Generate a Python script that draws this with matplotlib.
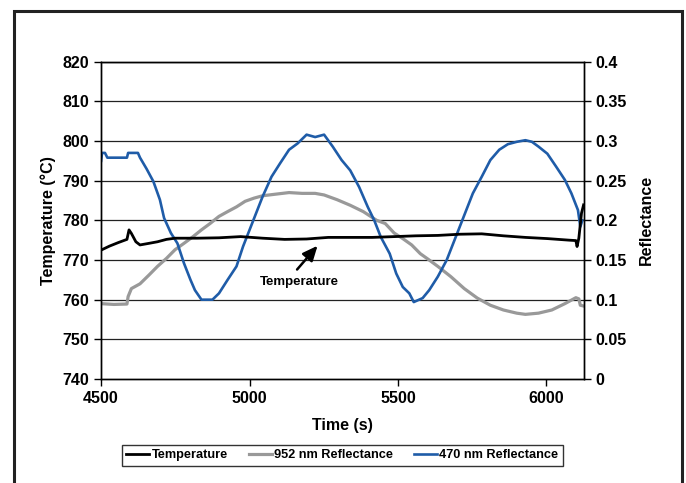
import matplotlib
matplotlib.use("Agg")
import matplotlib.pyplot as plt
from matplotlib.patches import Rectangle

plt.rcParams['font.family'] = ['Liberation Sans', 'DejaVu Sans']
plt.rcParams['font.weight'] = 'bold'

# 470 nm reflectance (right axis)
t_470 = [4500, 4503, 4513, 4521, 4587, 4591, 4624, 4631, 4653, 4676, 4698, 4712,
         4735, 4757, 4779, 4801, 4816, 4838, 4875, 4897, 4926, 4956, 4978, 5000,
         5022, 5044, 5074, 5103, 5133, 5162, 5192, 5221, 5251, 5280, 5310, 5339,
         5369, 5398, 5420, 5442, 5472, 5494, 5516, 5538, 5553, 5583, 5605, 5634,
         5664, 5686, 5708, 5730, 5752, 5782, 5811, 5841, 5870, 5900, 5929, 5951,
         5973, 6003, 6032, 6062, 6084, 6106, 6114, 6121]
r_470 = [0.275, 0.285, 0.285, 0.279, 0.279, 0.285, 0.285, 0.279, 0.265, 0.249, 0.226, 0.203,
         0.184, 0.171, 0.146, 0.125, 0.112, 0.100, 0.100, 0.108, 0.125, 0.142, 0.167, 0.188,
         0.209, 0.230, 0.255, 0.272, 0.289, 0.297, 0.308, 0.305, 0.308, 0.293, 0.276, 0.263,
         0.242, 0.217, 0.200, 0.179, 0.158, 0.133, 0.116, 0.108, 0.097, 0.102, 0.112, 0.129,
         0.150, 0.171, 0.192, 0.213, 0.234, 0.255, 0.276, 0.289, 0.296, 0.299, 0.301, 0.299,
         0.293, 0.284, 0.268, 0.251, 0.234, 0.213, 0.192, 0.200]

# 952 nm reflectance (right axis)
t_952 = [4500, 4543, 4587, 4591, 4602, 4631, 4661, 4690, 4720, 4749, 4779, 4808,
         4838, 4867, 4897, 4926, 4956, 4985, 5015, 5044, 5088, 5133, 5177, 5221,
         5251, 5295, 5339, 5383, 5428, 5457, 5487, 5516, 5546, 5575, 5605, 5634,
         5678, 5723, 5767, 5811, 5855, 5900, 5929, 5973, 6018, 6062, 6099, 6109,
         6114, 6125]
r_952 = [0.095, 0.094, 0.0945, 0.104, 0.114, 0.120, 0.131, 0.142, 0.152, 0.163, 0.171, 0.179,
         0.188, 0.196, 0.205, 0.211, 0.217, 0.224, 0.228, 0.231, 0.233, 0.235, 0.234, 0.234,
         0.232, 0.226, 0.219, 0.211, 0.200, 0.196, 0.184, 0.177, 0.169, 0.158, 0.150, 0.142,
         0.129, 0.114, 0.102, 0.093, 0.087, 0.083, 0.0815, 0.083, 0.087, 0.095, 0.1025, 0.101,
         0.093, 0.092]

# temperature (left axis, deg C)
t_temp = [4500, 4528, 4558, 4587, 4594, 4602, 4617, 4631, 4661, 4690, 4720, 4749,
          4823, 4897, 4970, 5044, 5118, 5192, 5265, 5339, 5413, 5487, 5560, 5634,
          5708, 5782, 5855, 5929, 6003, 6077, 6099, 6103, 6109, 6118, 6125]
temp = [772.5, 773.5, 774.4, 775.2, 777.6, 776.7, 774.6, 773.8, 774.2, 774.6, 775.2, 775.5,
        775.5, 775.6, 775.9, 775.5, 775.2, 775.3, 775.7, 775.7, 775.7, 775.9, 776.1, 776.2,
        776.5, 776.6, 776.1, 775.7, 775.4, 775.0, 774.9, 773.4, 775.5, 781.8, 783.9]

fig = plt.figure(figsize=(6.86, 4.83), dpi=100)
ax = fig.add_axes([0.1474, 0.2153, 0.7033, 0.657])
ax2 = ax.twinx()

ax.set_zorder(ax2.get_zorder() + 1)
ax.patch.set_visible(False)

l1, = ax.plot(t_temp, temp, color='black', lw=2, label='Temperature')
l2, = ax2.plot(t_952, r_952, color='#999999', lw=2.3, label='952 nm Reflectance')
l3, = ax2.plot(t_470, r_470, color='#1f5ca8', lw=1.9, label='470 nm Reflectance')

ax.set_xlim(4500, 6125)
ax.set_ylim(740, 820)
ax2.set_ylim(0, 0.4)
ax.set_xticks([4500, 5000, 5500, 6000])
ax.set_yticks(range(740, 821, 10))
ax2.set_yticks([0, 0.05, 0.1, 0.15, 0.2, 0.25, 0.3, 0.35, 0.4])
ax2.set_yticklabels(['0', '0.05', '0.1', '0.15', '0.2', '0.25', '0.3', '0.35', '0.4'])

for a in (ax, ax2):
    a.tick_params(direction='out', length=5, width=1, labelsize=11.5, colors='black')
    for s in a.spines.values():
        s.set_linewidth(1)
ax2.grid(False)
for y in range(750, 821, 10):
    ax2.axhline((y - 740) / 200.0, color='#222222', lw=0.9, zorder=0)

ax.set_xlabel('Time (s)', fontsize=11.5, fontweight='bold', labelpad=9)
ax.set_ylabel('Temperature (\u00b0C)', fontsize=11.5, fontweight='bold', labelpad=5)
ax2.set_ylabel('Reflectance', fontsize=11.5, fontweight='bold', labelpad=9)

ax.text(5167, 764.5, 'Temperature', fontsize=9.5, fontweight='bold',
        ha='center', va='center')
ax.annotate('', xy=(5229, 773.6), xytext=(5160, 767.6),
            arrowprops=dict(arrowstyle='-|>,head_length=0.9,head_width=0.4',
                            color='black', lw=1.8, shrinkA=0, shrinkB=0))

leg = fig.legend(handles=[l1, l2, l3], loc='center', bbox_to_anchor=(0.499, 0.057),
                 ncol=3, fontsize=9.2, frameon=True, fancybox=False, edgecolor='black',
                 handlelength=1.8, handletextpad=0.2, columnspacing=1.6,
                 borderpad=0.35)
leg.get_frame().set_linewidth(1)
for t in leg.get_texts():
    t.set_fontweight('bold')

fig.patches.append(Rectangle((14 / 686, -0.1), 668 / 686, 1.1 - 11 / 483,
                             transform=fig.transFigure, fill=False,
                             edgecolor='#222222', lw=2.2))

fig.savefig('out.png', dpi=100)
